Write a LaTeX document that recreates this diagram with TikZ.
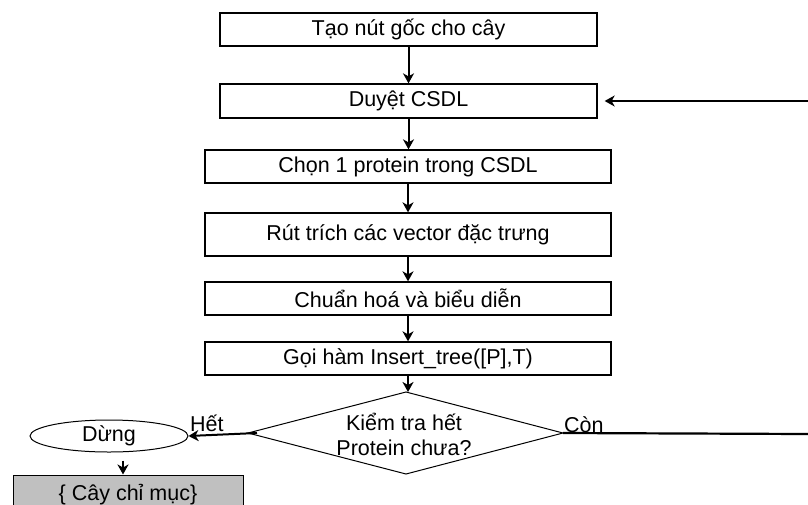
\documentclass[tikz,border=0pt]{standalone}
\usepackage{fontspec}
\setmainfont{Liberation Sans}
\usetikzlibrary{shapes.geometric,arrows.meta}
\newcommand\dfont{\fontsize{21.5}{25}\selectfont}
\begin{document}
\begin{tikzpicture}[x=1pt,y=-1pt,
  box/.style={draw, line width=1.3pt, inner sep=0pt, font=\dfont, align=center},
  arr/.style={line width=2pt, -{Stealth[length=10pt,width=11pt,inset=3pt]}},
  plain/.style={line width=2.2pt},
  lbl/.style={inner sep=0pt, font=\dfont}
]
\useasboundingbox (0,0) rectangle (808,504);
\clip (0,0) rectangle (808,504);
\fill[white] (0,0) rectangle (808,504);

\node[box, minimum width=377pt, minimum height=33pt] (tao) at (408.5,29.5) {Tạo nút gốc cho cây};
\node[box, minimum width=377pt, minimum height=34pt] (duyet) at (408.5,101) {Duyệt CSDL};
\node[box, minimum width=406pt, minimum height=33pt] (chon) at (408,166.5) {Chọn 1 protein trong CSDL};
\node[box, minimum width=406pt, minimum height=43pt] (rut) at (408,234.5) {Rút trích các vector đặc trưng};
\node[box, minimum width=406pt, minimum height=33pt] (chuan) at (408,298.5) {Chuẩn hoá và biểu diễn};
\node[box, minimum width=406pt, minimum height=33pt] (goi) at (408,358.5) {Gọi hàm Insert\_tree([P],T)};

% decision diamond
\coordinate (kt) at (406,392);
\coordinate (kb) at (406,474);
\coordinate (kl) at (248,433);
\coordinate (kr) at (563,433);
\draw[line width=1pt] (kt) -- (kr) -- (kb) -- (kl) -- cycle;
\node[lbl, align=center] (kiem) at (404,434) {Kiểm tra hết\\Protein chưa?};

\node[box, ellipse, line width=1pt, minimum width=158pt, minimum height=32pt] (dung) at (109,436) {Dừng};
\node[box, fill={rgb,255:red,192;green,192;blue,192}, line width=1pt, minimum width=230pt, minimum height=40pt] (cay) at (128,495) {\{ Cây chỉ mục\}};

\coordinate (r1) at (808,101);
\coordinate (r2) at (808,434);

\draw[arr] (tao.south) -- (duyet.north);
\draw[arr] (duyet.south) -- (duyet.south |- chon.north);
\draw[arr] (chon.south) -- (rut.north);
\draw[arr] (rut.south) -- (chuan.north);
\draw[arr] (chuan.south) -- (goi.north);
\draw[arr] (goi.south) -- (goi.south |- kt);
\draw[arr] ([xshift=9pt]kl) -- (dung.east);
\draw[arr] ([xshift=14pt,yshift=-8pt]dung.south) -- ([xshift=-5pt]cay.north);
\draw[arr] (r1) -- ([xshift=7pt]duyet.east);
\draw[plain] (kr) -- (r2);

\node[lbl, anchor=base west] (het) at (190,431) {Hết};
\node[lbl, anchor=base west] (con) at (564,432) {Còn};
\end{tikzpicture}
\end{document}
